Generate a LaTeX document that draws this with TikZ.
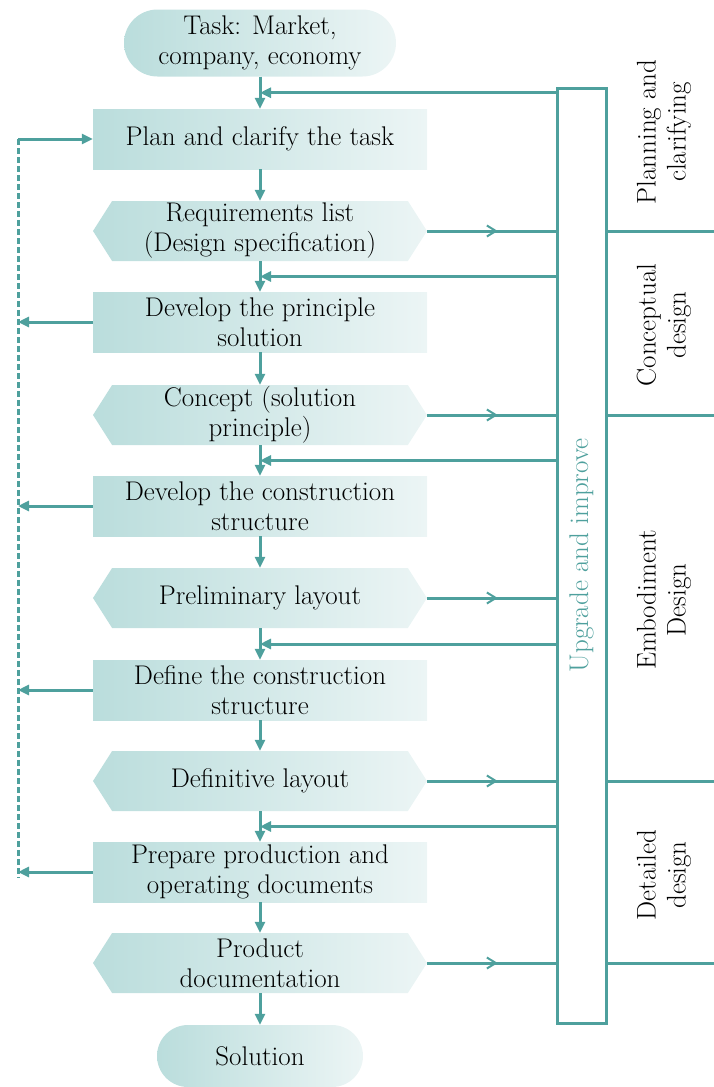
\documentclass[tikz,border=0pt]{standalone}
\usetikzlibrary{arrows.meta,calc,shapes.misc,shapes.symbols,decorations.markings}

\definecolor{tealline}{RGB}{78,160,157}
\definecolor{tealfill}{RGB}{186,221,220}
\definecolor{tealpale}{RGB}{236,245,245}

\tikzset{
  box/.style={rectangle, minimum width=334pt, minimum height=60pt, inner sep=0pt,
              align=center, left color=tealfill, right color=tealpale},
  iobox/.style={box, signal, signal to=west and east, signal pointer angle=115},
  term/.style={rounded rectangle, inner sep=0pt, align=center,
               left color=tealfill, right color=tealpale},
  midarrow/.style={postaction={decorate},
    decoration={markings, mark=at position .55 with
      {\arrow[line width=2pt]{Straight Barb[length=9pt,width=11pt]}}}}
}

\begin{document}
\begin{tikzpicture}[x=1pt, y=-1pt, font=\fontsize{27}{30}\selectfont]

\useasboundingbox (0,0) rectangle (714,1087);

\begin{scope}
    \node (task) at (260, 43) [term, minimum width=272pt, minimum height=67pt] {Task: Market,\\company, economy};
    \node (plan) at (260, 139) [box] {Plan and clarify the task};
    \node (req)  at (260, 231) [iobox] {Requirements list\\(Design specification)};
    \node (prin) at (260, 322) [box] {Develop the principle\\solution};
    \node (conc) at (260, 415) [iobox] {Concept (solution\\principle)};
    \node (dev)  at (260, 506) [box] {Develop the construction\\structure};
    \node (prel) at (260, 598) [iobox] {Preliminary layout};
    \node (defn) at (260, 690) [box] {Define the construction\\structure};
    \node (defl) at (260, 781) [iobox] {Definitive layout};
    \node (prep) at (260, 872) [box] {Prepare production and\\operating documents};
    \node (prod) at (260, 963) [iobox] {Product\\documentation};
    \node (sol)  at (260, 1056) [term, minimum width=206pt, minimum height=62pt] {Solution};
\end{scope}

% upgrade bar and phases
\node (bar) at (581.5, 555.5) [draw=tealline, line width=3pt, fill=white,
      minimum width=49pt, minimum height=935pt, inner sep=0pt] {};
\node (upg) at (bar.center) [rotate=90, text=tealline] {Upgrade and improve};

\node (ph1) at (664, 132) [rotate=90, align=center] {Planning and\\clarifying};
\node (ph2) at (664, 325) [rotate=90, align=center] {Conceptual\\design};
\node (ph3) at (664, 600) [rotate=90, align=center] {Embodiment\\Design};
\node (ph4) at (664, 875) [rotate=90, align=center] {Detailed\\design};

\coordinate (rim) at (714, 0);
\coordinate (lft) at (18, 0);
\coordinate (f1) at ($(task.south)!.5!(plan.north)$);
\coordinate (f2) at ($(req.south)!.5!(prin.north)$);
\coordinate (f3) at ($(conc.south)!.5!(dev.north)$);
\coordinate (f4) at ($(prel.south)!.5!(defn.north)$);
\coordinate (f5) at ($(defl.south)!.5!(prep.north)$);

\begin{scope}[>={Triangle[length=11pt,width=10pt]},
              every edge/.style={draw=tealline, line width=3pt}
]
    % main flow
    \path [->] (task.south) edge (plan.north);
    \path [->] (plan.south) edge (req.north);
    \path [->] (req.south)  edge (prin.north);
    \path [->] (prin.south) edge (conc.north);
    \path [->] (conc.south) edge (dev.north);
    \path [->] (dev.south)  edge (prel.north);
    \path [->] (prel.south) edge (defn.north);
    \path [->] (defn.south) edge (defl.north);
    \path [->] (defl.south) edge (prep.north);
    \path [->] (prep.south) edge (prod.north);
    \path [->] (prod.south) edge (sol.north);

    % results into the bar
    \path (req.east)  edge [midarrow] (bar.west |- req.east);
    \path (conc.east) edge [midarrow] (bar.west |- conc.east);
    \path (prel.east) edge [midarrow] (bar.west |- prel.east);
    \path (defl.east) edge [midarrow] (bar.west |- defl.east);
    \path (prod.east) edge [midarrow] (bar.west |- prod.east);

    % back from the bar
    \path [->] (bar.west |- f1) edge (f1);
    \path [->] (bar.west |- f2) edge (f2);
    \path [->] (bar.west |- f3) edge (f3);
    \path [->] (bar.west |- f4) edge (f4);
    \path [->] (bar.west |- f5) edge (f5);

    % phase dividers
    \path (bar.east |- req.east)  edge (rim |- req.east);
    \path (bar.east |- conc.east) edge (rim |- conc.east);
    \path (bar.east |- defl.east) edge (rim |- defl.east);
    \path (bar.east |- prod.east) edge (rim |- prod.east);

    % left loop
    \path [->] (lft |- plan.west) edge (plan.west);
    \path [->] (prin.west) edge (lft |- prin.west);
    \path [->] (dev.west)  edge (lft |- dev.west);
    \path [->] (defn.west) edge (lft |- defn.west);
    \path [->] (prep.west) edge (lft |- prep.west);
\end{scope}

\draw [tealline, line width=3pt, dash pattern=on 6pt off 3pt]
    (lft |- plan.west) -- ($(lft |- prep.west)+(0,6)$);

\end{tikzpicture}
\end{document}
